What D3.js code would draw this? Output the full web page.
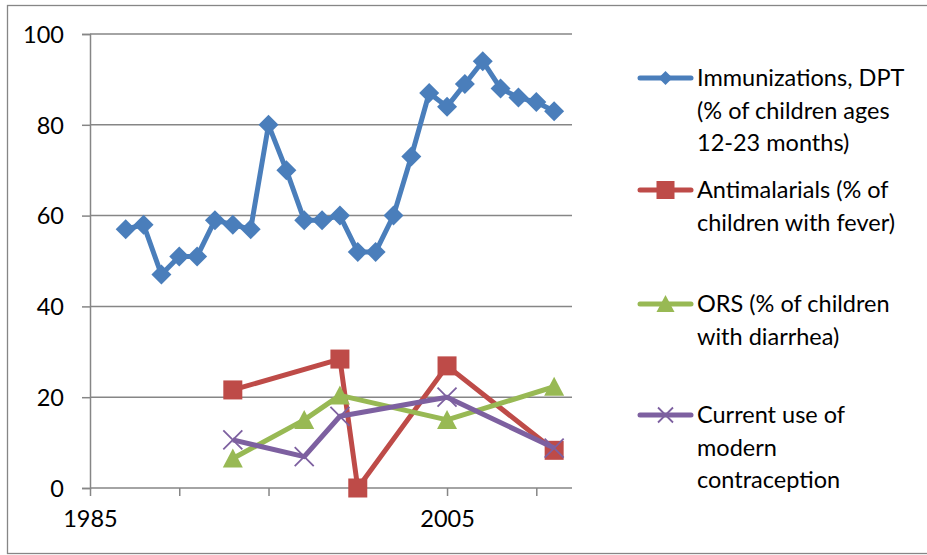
<!DOCTYPE html>
<html>
<head>
<meta charset="utf-8">
<script src="https://cdn.jsdelivr.net/npm/d3@7"></script>
<style>
  html, body { margin: 0; padding: 0; background: #fff; }
  svg text { font-family: Lato, "Liberation Sans", sans-serif; fill: #000; }
</style>
</head>
<body>
<svg id="chart" width="927" height="555"></svg>
<script>
// ---- Data ----
const dptYears = [1987,1988,1989,1990,1991,1992,1993,1994,1995,1996,1997,1998,1999,2000,2001,2002,2003,2004,2005,2006,2007,2008,2009,2010,2011];
const dptValues = [57,58,47,51,51,59,58,57,80,70,59,59,60,52,52,60,73,87,84,89,94,88,86,85,83];
const antimalYears = [1993,1999,2000,2005,2011];
const antimalValues = [21.6,28.4,0,26.9,8.3];
const orsYears = [1993,1997,1999,2005,2011];
const orsValues = [6.5,15,20.4,15,22.3];
const contraYears = [1993,1997,1999,2005,2011];
const contraValues = [10.6,6.9,15.8,20,8.8];
const xTickValues = [1985,1990,1995,2000,2005,2010];
const xTickLabels = ["1985","","","","2005",""];
const yTickValues = [0,20,40,60,80,100];
const seriesNames = [
  ["Immunizations, DPT","(% of children ages","12-23 months)"],
  ["Antimalarials (% of","children with fever)"],
  ["ORS (% of children","with diarrhea)"],
  ["Current use of","modern","contraception"]
];
const seriesColors = ["#4A7EBB","#BE4B48","#98B954","#7D60A0"];

// ---- Layout ----
const svg = d3.select("#chart");
const pLeft = 90, pRight = 572, pTop = 34, pBottom = 488;
const x = d3.scaleLinear().domain([1985, 2012]).range([pLeft, pRight]);
const y = d3.scaleLinear().domain([0, 100]).range([pBottom, pTop]);
const gridColor = "#868686";
const fontSize = 23.5;

// outer border
svg.append("rect").attr("x", 7.5).attr("y", 5.5).attr("width", 930).attr("height", 548)
  .attr("fill", "none").attr("stroke", gridColor).attr("stroke-width", 1.3);

// axes and gridlines
const yAxis = d3.axisLeft(y).tickValues(yTickValues).tickSize(8).tickPadding(18).tickFormat(d3.format("d"));
const gy = svg.append("g").attr("transform", `translate(${pLeft},0)`).call(yAxis);
gy.select(".domain").attr("stroke", gridColor).attr("stroke-width", 1.5);
gy.selectAll(".tick line").attr("stroke", gridColor).attr("stroke-width", 1.5);
gy.selectAll(".tick text").attr("font-size", fontSize).attr("font-family", "Lato").attr("fill", "#000").attr("dy", "0.35em");
svg.append("g").selectAll("line").data(yTickValues.filter(v => v > 0)).join("line")
  .attr("x1", pLeft).attr("x2", pRight).attr("y1", d => y(d)).attr("y2", d => y(d))
  .attr("stroke", gridColor).attr("stroke-width", 1.5);

const xAxis = d3.axisBottom(x).tickValues(xTickValues).tickSize(8).tickPadding(14)
  .tickFormat((d, i) => xTickLabels[i]);
const gx = svg.append("g").attr("transform", `translate(0,${pBottom})`).call(xAxis);
gx.select(".domain").attr("stroke", gridColor).attr("stroke-width", 1.5).attr("d", `M${pLeft},0H${pRight}`);
gx.selectAll(".tick line").attr("stroke", gridColor).attr("stroke-width", 1.5);
gx.selectAll(".tick text").attr("font-size", fontSize).attr("font-family", "Lato").attr("fill", "#000");

// markers
function marker(g, type, color, s) {
  if (type === "diamond") {
    g.append("path").attr("d", `M0,${-s}L${s},0L0,${s}L${-s},0Z`).attr("fill", color);
  } else if (type === "square") {
    g.append("rect").attr("x", -s).attr("y", -s).attr("width", 2*s).attr("height", 2*s).attr("fill", color);
  } else if (type === "triangle") {
    g.append("path").attr("d", `M0,${-s}L${s},${s*0.9}L${-s},${s*0.9}Z`).attr("fill", color);
  } else if (type === "x") {
    g.append("path").attr("d", `M${-s},${-s}L${s},${s}M${-s},${s}L${s},${-s}`)
      .attr("stroke", color).attr("stroke-width", 1.8).attr("fill", "none");
  }
}

const series = [
  {xs: dptYears, ys: dptValues, type: "diamond", size: 10},
  {xs: antimalYears, ys: antimalValues, type: "square", size: 9.5},
  {xs: orsYears, ys: orsValues, type: "triangle", size: 10},
  {xs: contraYears, ys: contraValues, type: "x", size: 9.5}
];

const line = d3.line().x(d => x(d[0])).y(d => y(d[1]));
series.forEach((s, i) => {
  const pts = s.xs.map((v, j) => [v, s.ys[j]]);
  const g = svg.append("g");
  g.append("path").attr("d", line(pts)).attr("fill", "none")
    .attr("stroke", seriesColors[i]).attr("stroke-width", 5).attr("stroke-linejoin", "round");
  pts.forEach(p => {
    const mg = g.append("g").attr("transform", `translate(${x(p[0])},${y(p[1])})`);
    marker(mg, s.type, seriesColors[i], s.size);
  });
});

// legend
const legendY = [78, 190, 304, 415];
const legendSizes = [7, 9, 9, 7.5];
const lineH = 32.3;
series.forEach((s, i) => {
  const g = svg.append("g").attr("transform", `translate(0,${legendY[i]})`);
  g.append("line").attr("x1", 640).attr("x2", 691).attr("y1", 0).attr("y2", 0)
    .attr("stroke", seriesColors[i]).attr("stroke-width", 5).attr("stroke-linecap", "round");
  const mg = g.append("g").attr("transform", "translate(665.5,0)");
  marker(mg, s.type, seriesColors[i], legendSizes[i]);
  const t = g.append("text").attr("x", 697).attr("y", 0).attr("font-size", fontSize);
  seriesNames[i].forEach((ln, k) => {
    t.append("tspan").attr("x", 697).attr("y", k * lineH).attr("dy", "0.35em").text(ln);
  });
});
</script>
</body>
</html>
